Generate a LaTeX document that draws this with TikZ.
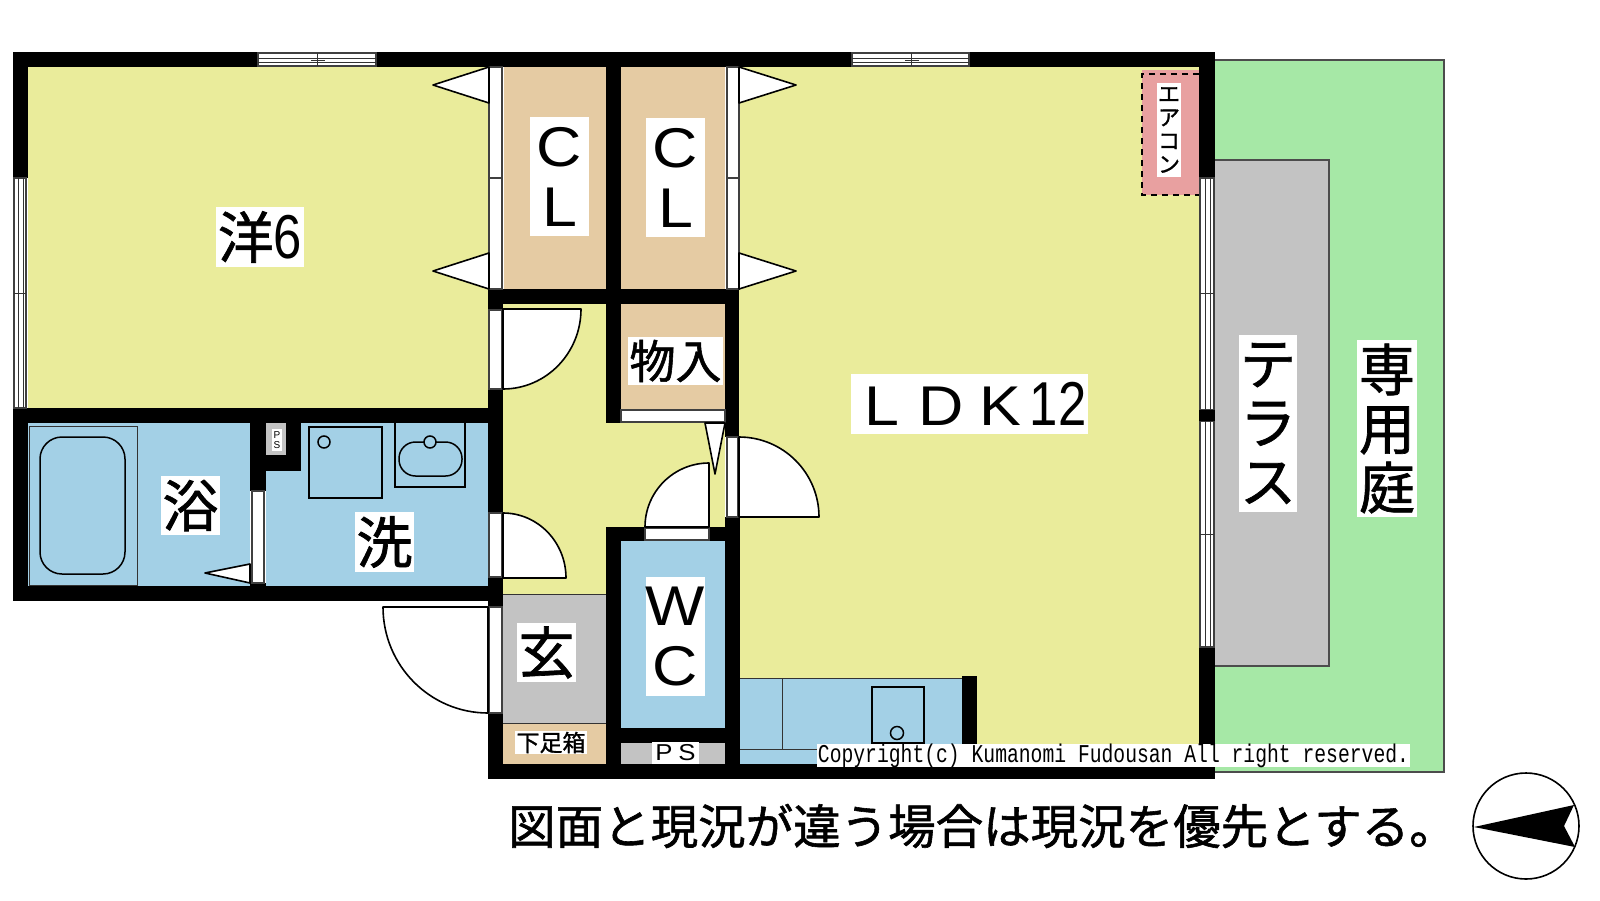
\documentclass[tikz,border=0pt]{standalone}
\usepackage{fontspec}
\usepackage{graphicx}
\setmainfont{Liberation Sans}
\setmonofont{Liberation Mono}
\newfontfamily\jpfont[FakeBold=1.2]{Noto Sans CJK JP}
\newfontfamily\widefont[FakeStretch=1.12]{Liberation Sans}
\newfontfamily\narrowfont[FakeStretch=0.82]{Liberation Sans}
\usetikzlibrary{positioning}
\definecolor{roomyellow}{RGB}{234,236,155}
\definecolor{roomtan}{RGB}{229,203,163}
\definecolor{roomblue}{RGB}{163,208,230}
\definecolor{roomgreen}{RGB}{166,232,166}
\definecolor{roomgray}{RGB}{195,195,195}
\definecolor{roompink}{RGB}{232,160,160}
\tikzstyle{plan}=[x=1pt, y=-1pt]
\tikzstyle{wall}=[fill=black]
\tikzstyle{line}=[draw=black, line width=1.5pt]
\tikzstyle{door}=[fill=white, draw=black, line width=1.6pt, line join=round]
\tikzstyle{sash}=[fill=white, draw=black!75, line width=1.3pt]
\tikzstyle{thin}=[draw=black!80, line width=1pt]
\tikzstyle{tag}=[fill=white, inner sep=0pt, align=center, text=black]
\newcommand{\fs}[2]{\fontsize{#1}{#2}\selectfont}
\begin{document}
\begin{tikzpicture}[plan]
  \useasboundingbox (0,0) rectangle (1600,900);
  \fill[roomgreen] (1215,60) rectangle (1444,772);
  \draw[black!70, line width=1.3pt] (1215,60) -- (1444,60) -- (1444,772) -- (1215,772);
  \fill[roomgray] (1215,160) rectangle (1329,666);
  \draw[black!70, line width=1.3pt] (1215,160) -- (1329,160) -- (1329,666) -- (1215,666);
  \fill[roomyellow] (28,67) rectangle (488,408);
  \fill[roomyellow] (739,67) rectangle (1199,764);
  \fill[roomyellow] (503,304) rectangle (606,594);
  \fill[roomyellow] (606,423) rectangle (725,527);
  \fill[roomtan] (504,67) rectangle (606,289);
  \fill[roomtan] (621,67) rectangle (725,289);
  \fill[roomtan] (621,304) rectangle (725,410);
  \fill[roomblue] (28,423) rectangle (250,586);
  \fill[roomblue] (266,423) rectangle (488,586);
  \fill[roomblue] (621,541) rectangle (725,728);
  \fill[roomgray] (503,594) rectangle (606,723);
  \fill[roomtan] (503,723) rectangle (606,764);
  \fill[roomgray] (621,743) rectangle (725,764);
  \fill[roomgray] (266,423) rectangle (286,455);
  \fill[roomblue] (740,678) rectangle (962,764);
  \fill[roompink] (1142,70) rectangle (1199,195);
  \draw[black, line width=1.5pt, dash pattern=on 6pt off 5pt] (1199,74) -- (1142,74) -- (1142,195) -- (1199,195);
  \draw[thin] (503,594) -- (606,594);
  \draw[thin] (503,723) -- (606,723);
  \draw[thin] (29,426) rectangle (137,585);
  \draw[line, rounded corners=22pt] (40,437) rectangle (125,574);
  \draw[line] (309,427) rectangle (382,498);
  \draw[line] (324,442) circle (6);
  \draw[line] (395,423) -- (395,487) -- (465,487) -- (465,423);
  \draw[line, rounded corners=16.5pt] (399,442) rectangle (462,476);
  \draw[line, fill=roomblue] (430,442) circle (6);
  \draw[thin] (740,678) -- (962,678);
  \draw[thin] (782,678) -- (782,749);
  \draw[thin] (740,749) -- (817,749);
  \draw[line] (872,687) rectangle (924,743);
  \draw[line] (897,733) circle (6.5);
  \fill[wall] (13,52) rectangle (1215,67);
  \fill[wall] (13,52) rectangle (28,178);
  \fill[wall] (13,408) rectangle (503,423);
  \fill[wall] (13,408) rectangle (28,601);
  \fill[wall] (13,586) rectangle (503,601);
  \fill[wall] (488,289) rectangle (739,304);
  \fill[wall] (488,289) rectangle (503,310);
  \fill[wall] (488,389) rectangle (503,513);
  \fill[wall] (488,577) rectangle (503,607);
  \fill[wall] (488,713) rectangle (503,779);
  \fill[wall] (488,764) rectangle (1215,779);
  \fill[wall] (606,52) rectangle (621,423);
  \fill[wall] (725,289) rectangle (739,437);
  \fill[wall] (606,527) rectangle (645,541);
  \fill[wall] (709,527) rectangle (739,541);
  \fill[wall] (606,527) rectangle (621,764);
  \fill[wall] (725,517) rectangle (740,764);
  \fill[wall] (621,728) rectangle (725,743);
  \fill[wall] (250,423) rectangle (266,491);
  \fill[wall] (250,583) rectangle (266,586);
  \fill[wall] (250,455) rectangle (301,471);
  \fill[wall] (286,423) rectangle (301,471);
  \fill[wall] (1199,52) rectangle (1215,178);
  \fill[wall] (1199,647) rectangle (1215,779);
  \fill[wall] (962,676) rectangle (977,764);
  \draw[sash] (258,53) rectangle (376,66);
  \draw[sash] (852,53) rectangle (969,66);
  \draw[thin] (258,58) -- (376,58) (258,62) -- (376,62) (317,53) -- (317,66) (311,60) -- (325,60);
  \draw[thin] (852,58) -- (969,58) (852,62) -- (969,62) (911,53) -- (911,66) (905,60) -- (919,60);
  \draw[sash] (14,178) rectangle (26,408);
  \draw[thin] (18,178) -- (18,408) (23,178) -- (23,408) (14,293) -- (26,293) (18,287) -- (18,293) (23,293) -- (23,300);
  \draw[sash] (1200,178) rectangle (1214,410);
  \draw[sash] (1200,421) rectangle (1214,647);
  \fill[wall] (1199,410) rectangle (1215,421);
  \draw[thin] (1205,178) -- (1205,410) (1210,178) -- (1210,410) (1205,421) -- (1205,647) (1210,421) -- (1210,647);
  \draw[thin] (1200,293) -- (1214,293) (1200,534) -- (1214,534);
  \draw[sash] (489,67) rectangle (502,178);
  \draw[sash] (489,178) rectangle (502,289);
  \draw[sash] (727,67) rectangle (739,178);
  \draw[sash] (727,178) rectangle (739,289);
  \draw[sash] (489,310) rectangle (502,389);
  \draw[sash] (489,513) rectangle (502,577);
  \draw[sash] (489,607) rectangle (502,713);
  \draw[sash] (727,437) rectangle (738,517);
  \draw[sash] (621,410) rectangle (725,422);
  \draw[sash] (645,528) rectangle (709,540);
  \draw[sash] (252,491) rectangle (264,583);
  \draw[door] (489,67) -- (433,85) -- (489,103) -- cycle;
  \draw[door] (489,253) -- (433,271) -- (489,289) -- cycle;
  \draw[door] (739,67) -- (796,85) -- (739,103) -- cycle;
  \draw[door] (739,253) -- (796,271) -- (739,289) -- cycle;
  \draw[door] (250,564) -- (205,573) -- (250,583) -- cycle;
  \draw[door] (705,423) -- (715,474) -- (725,423) -- cycle;
  \draw[door] (503,309) -- (581,309) arc (0:90:78 and 80) -- cycle;
  \draw[door] (503,513) arc (-90:0:63 and 65) -- (503,578) -- cycle;
  \draw[door] (488,607) -- (383,607) arc (180:90:105 and 106) -- cycle;
  \draw[door] (709,527) -- (709,463) arc (-90:-180:64) -- cycle;
  \draw[door] (739,517) -- (739,437) arc (-90:0:80) -- cycle;
  \node[tag, minimum width=88, minimum height=60, font=\fs{56}{60}] (western) at (260,237) {{\jpfont 洋}{\narrowfont\fs{62}{60}6}};
  \node[tag, minimum width=59, minimum height=119, font=\fs{56}{60}\widefont] (closetleft) at (559.5,176.5) {C\\L};
  \node[tag, minimum width=59, minimum height=119, font=\fs{56}{60}\widefont] (closetright) at (675.5,177.5) {C\\L};
  \node[tag, minimum width=95, minimum height=48, font=\fs{46}{50}\jpfont] (storage) at (675.5,361) {物入};
  \node[tag, minimum width=59, minimum height=59, font=\fs{56}{60}\jpfont] (bath) at (190.5,505.5) {浴};
  \node[tag, minimum width=59, minimum height=60, font=\fs{56}{60}\jpfont] (wash) at (384.5,542) {洗};
  \node[tag, minimum width=59, minimum height=59, font=\fs{56}{60}\jpfont] (entry) at (546.5,652.5) {玄};
  \node[tag, minimum width=59, minimum height=119, font=\fs{56}{60}\widefont] (toilet) at (675.5,636.5) {W\\C};
  \node[tag, minimum width=72, minimum height=23, font=\fs{23}{23}\jpfont] (shoebox) at (551,742.5) {下足箱};
  \node[tag, minimum width=47, minimum height=22, font=\fs{23}{23}\widefont] (pipebottom) at (675.5,753) {P\hspace{6pt}S};
  \node[tag, minimum width=10, minimum height=22, font=\fs{10}{10.5}] (pipetop) at (277,440) {P\\S};
  \node[tag, minimum width=237, minimum height=60, font=\fs{56}{60}\widefont] (living) at (969.5,404) {\makebox[59pt]{L}\makebox[59pt]{D}\makebox[59pt]{K}{\narrowfont\fs{62}{60}12}};
  \node[tag, minimum width=24, minimum height=94, font=\fs{22}{23.5}\jpfont] (aircon) at (1169,130) {エ\\ア\\コ\\ン};
  \node[tag, minimum width=58, minimum height=177, font=\fs{56}{59}\jpfont] (terrace) at (1268,423.5) {テ\\ラ\\ス};
  \node[tag, minimum width=60, minimum height=177, font=\fs{56}{59}\jpfont] (garden) at (1387,428.5) {専\\用\\庭};
  \node[tag, minimum width=593, minimum height=23, font=\fs{19.7}{20}\ttfamily] (copyright) at (1113.5,755.5) {\scalebox{1}[1.3]{Copyright(c) Kumanomi Fudousan All right reserved.}};
  \node[inner sep=0pt, anchor=west, font=\fs{47.5}{50}\jpfont] (notice) at (508,826) {図面と現況が違う場合は現況を優先とする。};
  \draw[line width=1.6pt] (1526,826) circle (53);
  \fill[wall] (1474,827) -- (1574,805) -- (1564,826) -- (1575,847) -- cycle;
\end{tikzpicture}
\end{document}
